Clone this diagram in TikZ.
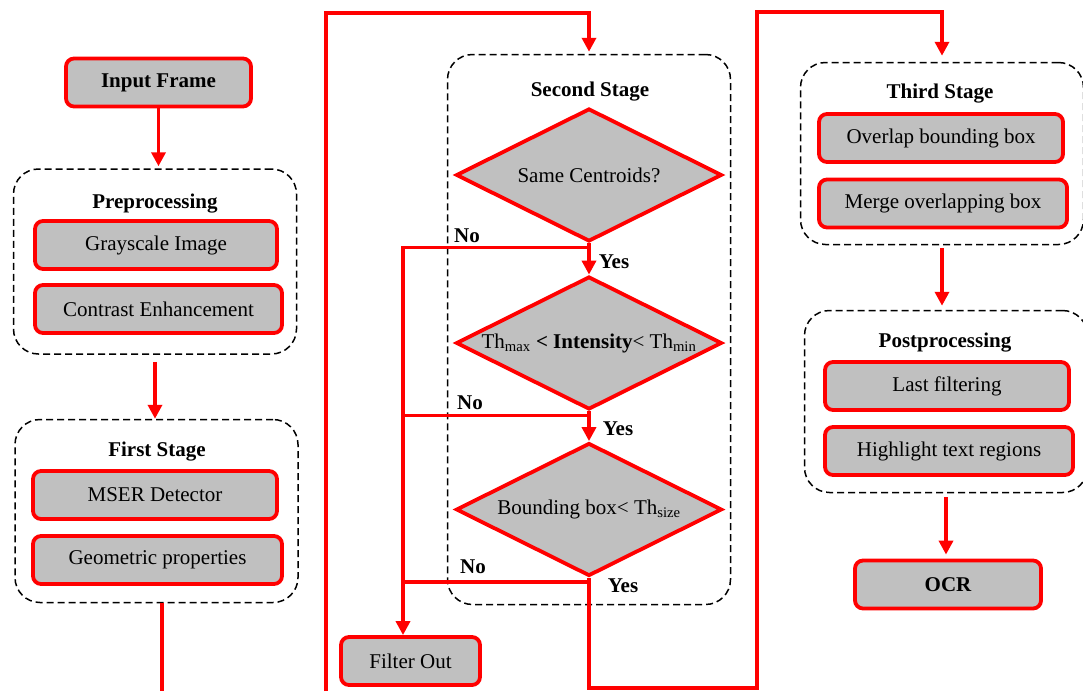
\documentclass[tikz,border=0pt]{standalone}
\usepackage{fontspec}
\setmainfont{Liberation Serif}
\usetikzlibrary{arrows.meta, shapes.geometric}
\definecolor{boxgray}{RGB}{192,192,192}

\begin{document}
\begin{tikzpicture}[x = 1pt, y = -1pt, > = {Triangle[length = 14pt, width = 14pt]}, font = \fontsize{21}{25}\selectfont,
	flow/.style = {draw = red, line width = 3.8pt},
	graybox/.style = {draw = red, line width = 3.8pt, fill = boxgray, rounded corners = 8pt, minimum height = 48pt, inner sep = 0pt},
	decision/.style = {diamond, aspect = 2, draw = red, line width = 3.8pt, fill = boxgray, minimum width = 266pt, minimum height = 133pt, inner sep = 0pt},
	stagebox/.style = {draw, dash pattern = on 7pt off 4pt, line width = 1.5pt, rounded corners = 25pt, minimum width = 283pt},
	title/.style = {font = \fontsize{21}{25}\selectfont\bfseries}]

	% Definitions
	
	\useasboundingbox (0, 0) rectangle (1083, 691);
	
	\coordinate (noline) at (403, 0);		% Column of the No branch
	\coordinate (firstout) at (162, 691);
	\coordinate (feed) at (326, 691);
	\coordinate (feedtop) at (589, 13);
	\coordinate (loopbottom) at (757, 688);
	\coordinate (looptop) at (757, 12);
	
	% Draw stages
	
	\node [stagebox, minimum height = 185pt] (pre) at (155, 261.5) {};
	\node [stagebox, minimum height = 183pt] (first) at (156.5, 511) {};
	\node [stagebox, minimum height = 550pt] (second) at (589, 329.5) {};
	\node [stagebox, minimum height = 182pt] (third) at (942, 153.5) {};
	\node [stagebox, minimum height = 182pt] (post) at (946, 401.5) {};
	
	\node [title] (pretitle) at (155, 204) {Preprocessing};
	\node [title] (firsttitle) at (157, 452) {First Stage};
	\node [title] (secondtitle) at (590, 92) {Second Stage};
	\node [title] (thirdtitle) at (940, 94) {Third Stage};
	\node [title] (posttitle) at (945, 343) {Postprocessing};
	
	% Draw boxes
	
	\node [graybox, minimum width = 185pt, font = \fontsize{21}{25}\selectfont\bfseries] (input) at (158.5, 82.5) {Input Frame};
	\node [graybox, minimum width = 186pt, font = \fontsize{21}{25}\selectfont\bfseries] (ocr) at (948, 584.5) {OCR};
	
	\foreach \name/\x/\y/\w/\txt in {gray/156/245/242/{Grayscale Image}, contrast/158.5/309/247/{Contrast Enhancement},
		mser/155/495/244/{MSER Detector}, geom/157.5/560/249/{Geometric properties},
		filter/410.5/661/139/{Filter Out},
		overlap/941/138/244/{Overlap bounding box}, merge/943/203.5/248/{Merge overlapping box},
		last/947/386/244/{Last filtering}, highlight/949/451/248/{Highlight text regions}}
	{
		\node [graybox, minimum width = \w] (\name) at (\x, \y) {\txt};
	}
	
	\node [decision] (centroid) at (589, 175) {Same Centroids?};
	\node [decision] (intensity) at (589, 343) {Th\textsubscript{max} \textbf{< Intensity}< Th\textsubscript{min}};
	\node [decision] (bbox) at (589, 509.5) {Bounding box< Th\textsubscript{size}};
	
	% Draw connectors
	
	\draw [flow, ->, shorten >= 2pt] (input) -- (input |- pre.north);
	\draw [flow, ->, shorten <= 7pt] (pre.south) -- (pre.south |- first.north);
	\draw [flow] (firstout |- first.south) -- (firstout);
	\draw [flow, ->, shorten >= 2pt] (feed) |- (feedtop) -- (feedtop |- second.north);
	
	\draw [flow, ->] (centroid.south) -- (intensity.north);
	\draw [flow, ->] (intensity.south) -- (bbox.north);
	\draw [flow, ->] ([yshift = -4pt] centroid.south) -| (noline |- filter.north);
	\draw [flow] ([yshift = -4pt] intensity.south) -- ([yshift = -4pt] intensity.south -| noline);
	\draw [flow] ([yshift = -4pt] bbox.south) -- ([yshift = -4pt] bbox.south -| noline);
	\draw [flow, ->, shorten >= 6pt] (bbox.south) |- (loopbottom) -- (looptop) -| (third.north);
	
	\draw [flow, ->, shorten <= 3pt, shorten >= 4pt] (third.south) -- (third.south |- post.north);
	\draw [flow, ->, shorten <= 4pt, shorten >= 4pt] (post.south) -- (post.south |- ocr.north);
	
	% Draw branch labels
	
	\node [title] (no1) at (467, 236) {No};
	\node [title] (yes1) at (614, 262) {Yes};
	\node [title] (no2) at (470, 403) {No};
	\node [title] (yes2) at (618, 429) {Yes};
	\node [title] (no3) at (473, 567) {No};
	\node [title] (yes3) at (623, 586) {Yes};
	
\end{tikzpicture}
\end{document}
